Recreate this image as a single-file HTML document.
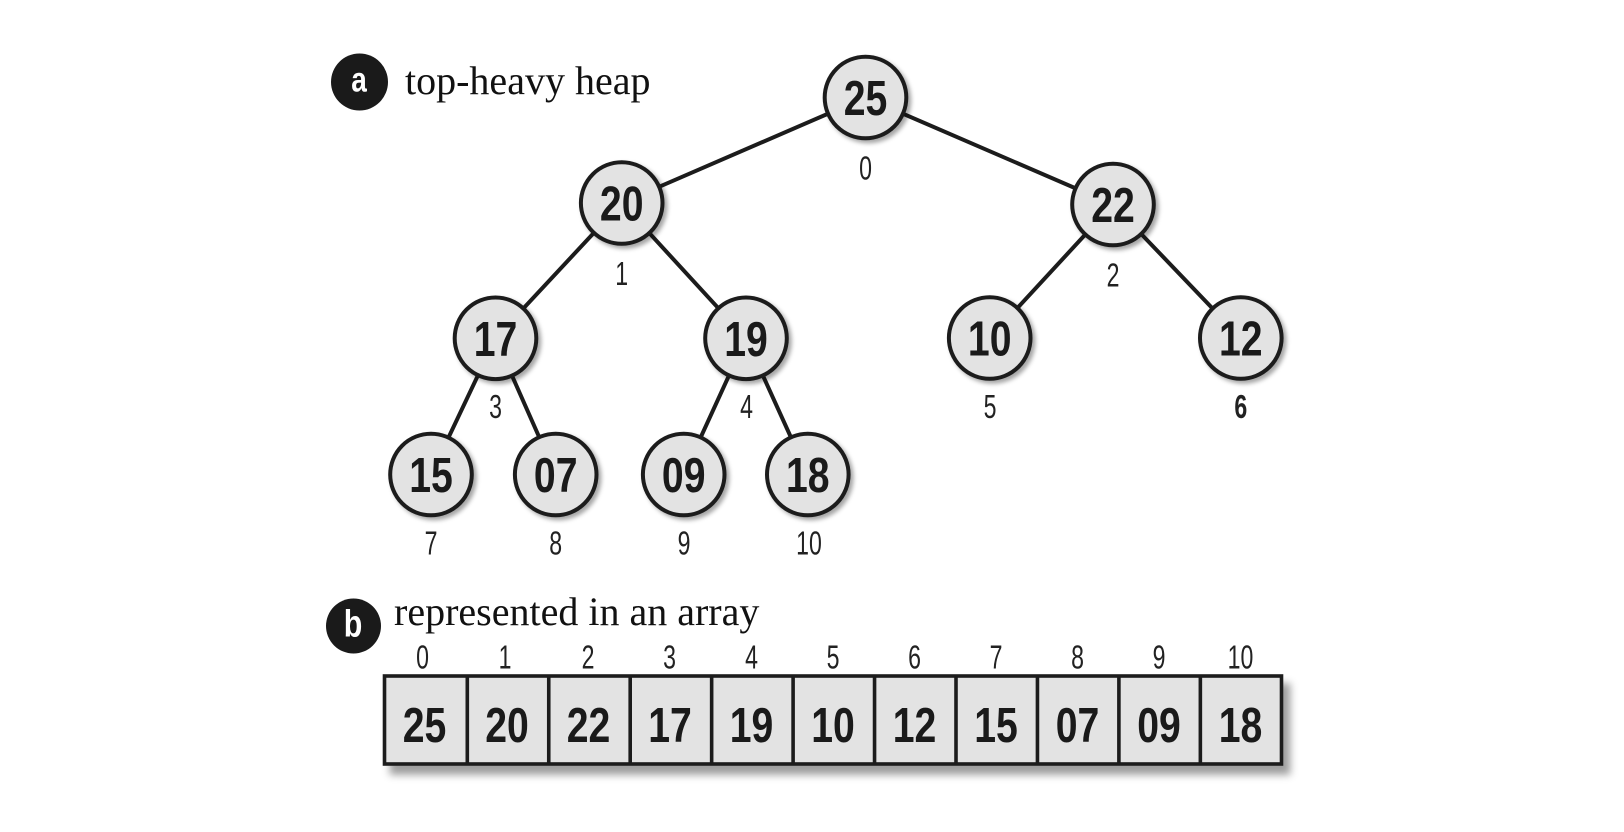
<!DOCTYPE html>
<html>
<head>
<meta charset="utf-8">
<style>
  html,body{margin:0;padding:0;background:#fff;}
  svg{display:block;}
</style>
</head>
<body>
<svg width="1624" height="832" viewBox="0 0 1624 832" xmlns="http://www.w3.org/2000/svg">
  <defs>
    <filter id="ns" x="-30%" y="-30%" width="170%" height="170%">
      <feDropShadow dx="3" dy="3" stdDeviation="2" flood-color="#000" flood-opacity="0.35"/>
    </filter>
    <filter id="as" x="-5%" y="-20%" width="112%" height="150%">
      <feDropShadow dx="7" dy="9" stdDeviation="4" flood-color="#000" flood-opacity="0.38"/>
    </filter>
  </defs>
  <rect width="1624" height="832" fill="#fff"/>

  <!-- Badge a + title -->
  <circle cx="359.5" cy="82" r="28.5" fill="#1a1a1a"/>
  <text transform="translate(359,91.7) scale(0.8,1)" text-anchor="middle" font-family="Liberation Sans, sans-serif" font-weight="bold" font-size="35" fill="#fff">a</text>
  <text x="405" y="94" font-family="Liberation Serif, serif" font-size="40" fill="#111">top-heavy heap</text>

  <!-- Edges -->
  <g stroke="#1c1c1c" stroke-width="4" stroke-linecap="round">
    <line x1="865.5" y1="97.5" x2="621.7" y2="203"/>
    <line x1="865.5" y1="97.5" x2="1113" y2="204.5"/>
    <line x1="621.7" y1="203" x2="495.5" y2="338.3"/>
    <line x1="621.7" y1="203" x2="746" y2="338.3"/>
    <line x1="1113" y1="204.5" x2="989.7" y2="338"/>
    <line x1="1113" y1="204.5" x2="1240.8" y2="338"/>
    <line x1="495.5" y1="338.3" x2="431" y2="474.5"/>
    <line x1="495.5" y1="338.3" x2="555.7" y2="474.5"/>
    <line x1="746" y1="338.3" x2="683.7" y2="474.5"/>
    <line x1="746" y1="338.3" x2="807.8" y2="474.5"/>
  </g>

  <!-- Nodes -->
  <g fill="#e3e3e3" stroke="#1c1c1c" stroke-width="4" filter="url(#ns)">
    <circle cx="865.5" cy="97.5" r="40.8"/>
    <circle cx="621.7" cy="203" r="40.8"/>
    <circle cx="1113" cy="204.5" r="40.8"/>
    <circle cx="495.5" cy="338.3" r="40.8"/>
    <circle cx="746" cy="338.3" r="40.8"/>
    <circle cx="989.7" cy="338" r="40.8"/>
    <circle cx="1240.8" cy="338" r="40.8"/>
    <circle cx="431" cy="474.5" r="40.8"/>
    <circle cx="555.7" cy="474.5" r="40.8"/>
    <circle cx="683.7" cy="474.5" r="40.8"/>
    <circle cx="807.8" cy="474.5" r="40.8"/>
  </g>

  <!-- Node values -->
  <g font-family="Liberation Sans, sans-serif" font-weight="bold" font-size="49" fill="#1a1a1a" text-anchor="middle">
    <text transform="translate(865.5,115) scale(0.8,1)">25</text>
    <text transform="translate(621.7,220.5) scale(0.8,1)">20</text>
    <text transform="translate(1113,222) scale(0.8,1)">22</text>
    <text transform="translate(495.5,355.8) scale(0.8,1)">17</text>
    <text transform="translate(746,355.8) scale(0.8,1)">19</text>
    <text transform="translate(989.7,355.5) scale(0.8,1)">10</text>
    <text transform="translate(1240.8,355.5) scale(0.8,1)">12</text>
    <text transform="translate(431,492) scale(0.8,1)">15</text>
    <text transform="translate(555.7,492) scale(0.8,1)">07</text>
    <text transform="translate(683.7,492) scale(0.8,1)">09</text>
    <text transform="translate(807.8,492) scale(0.8,1)">18</text>
  </g>

  <!-- Node index labels -->
  <g font-family="Liberation Sans, sans-serif" font-size="33" fill="#222" text-anchor="middle">
    <text transform="translate(865.5,179.5) scale(0.7,1)">0</text>
    <text transform="translate(621.7,285) scale(0.7,1)">1</text>
    <text transform="translate(1113,286.5) scale(0.7,1)">2</text>
    <text transform="translate(495.5,418) scale(0.7,1)">3</text>
    <text transform="translate(746.5,418) scale(0.7,1)">4</text>
    <text transform="translate(990,418) scale(0.7,1)">5</text>
    <text transform="translate(1240.8,418) scale(0.7,1)" font-weight="bold">6</text>
    <text transform="translate(431,554.5) scale(0.7,1)">7</text>
    <text transform="translate(555.7,554.5) scale(0.7,1)">8</text>
    <text transform="translate(684,554.5) scale(0.7,1)">9</text>
    <text transform="translate(809,554.5) scale(0.7,1)">10</text>
  </g>

  <!-- Badge b + title -->
  <circle cx="353.5" cy="626" r="27.5" fill="#1a1a1a"/>
  <text transform="translate(353,636.7) scale(0.8,1)" text-anchor="middle" font-family="Liberation Sans, sans-serif" font-weight="bold" font-size="38" fill="#fff">b</text>
  <text x="394" y="625" font-family="Liberation Serif, serif" font-size="40" fill="#111">represented in an array</text>

  <!-- Array -->
  <g filter="url(#as)">
    <rect x="384.5" y="676" width="897" height="88" fill="#e3e3e3" stroke="#1c1c1c" stroke-width="3.6"/>
  </g>
  <g stroke="#1c1c1c" stroke-width="3.6">
    <line x1="467.3" y1="676" x2="467.3" y2="764"/>
    <line x1="548.75" y1="676" x2="548.75" y2="764"/>
    <line x1="630.2" y1="676" x2="630.2" y2="764"/>
    <line x1="711.65" y1="676" x2="711.65" y2="764"/>
    <line x1="793.1" y1="676" x2="793.1" y2="764"/>
    <line x1="874.55" y1="676" x2="874.55" y2="764"/>
    <line x1="956" y1="676" x2="956" y2="764"/>
    <line x1="1037.45" y1="676" x2="1037.45" y2="764"/>
    <line x1="1118.9" y1="676" x2="1118.9" y2="764"/>
    <line x1="1200.35" y1="676" x2="1200.35" y2="764"/>
  </g>

  <!-- Array values -->
  <g font-family="Liberation Sans, sans-serif" font-weight="bold" font-size="49" fill="#1a1a1a" text-anchor="middle">
    <text transform="translate(424.5,742) scale(0.8,1)">25</text>
    <text transform="translate(507,742) scale(0.8,1)">20</text>
    <text transform="translate(588.5,742) scale(0.8,1)">22</text>
    <text transform="translate(670,742) scale(0.8,1)">17</text>
    <text transform="translate(751.5,742) scale(0.8,1)">19</text>
    <text transform="translate(833,742) scale(0.8,1)">10</text>
    <text transform="translate(914.5,742) scale(0.8,1)">12</text>
    <text transform="translate(996,742) scale(0.8,1)">15</text>
    <text transform="translate(1077.5,742) scale(0.8,1)">07</text>
    <text transform="translate(1159,742) scale(0.8,1)">09</text>
    <text transform="translate(1240.5,742) scale(0.8,1)">18</text>
  </g>

  <!-- Array index labels -->
  <g font-family="Liberation Sans, sans-serif" font-size="33" fill="#222" text-anchor="middle">
    <text transform="translate(422.5,668.5) scale(0.7,1)">0</text>
    <text transform="translate(505,668.5) scale(0.7,1)">1</text>
    <text transform="translate(588,668.5) scale(0.7,1)">2</text>
    <text transform="translate(669.5,668.5) scale(0.7,1)">3</text>
    <text transform="translate(751.5,668.5) scale(0.7,1)">4</text>
    <text transform="translate(833,668.5) scale(0.7,1)">5</text>
    <text transform="translate(914.5,668.5) scale(0.7,1)">6</text>
    <text transform="translate(996,668.5) scale(0.7,1)">7</text>
    <text transform="translate(1077.5,668.5) scale(0.7,1)">8</text>
    <text transform="translate(1159,668.5) scale(0.7,1)">9</text>
    <text transform="translate(1240.5,668.5) scale(0.7,1)">10</text>
  </g>
</svg>
</body>
</html>
